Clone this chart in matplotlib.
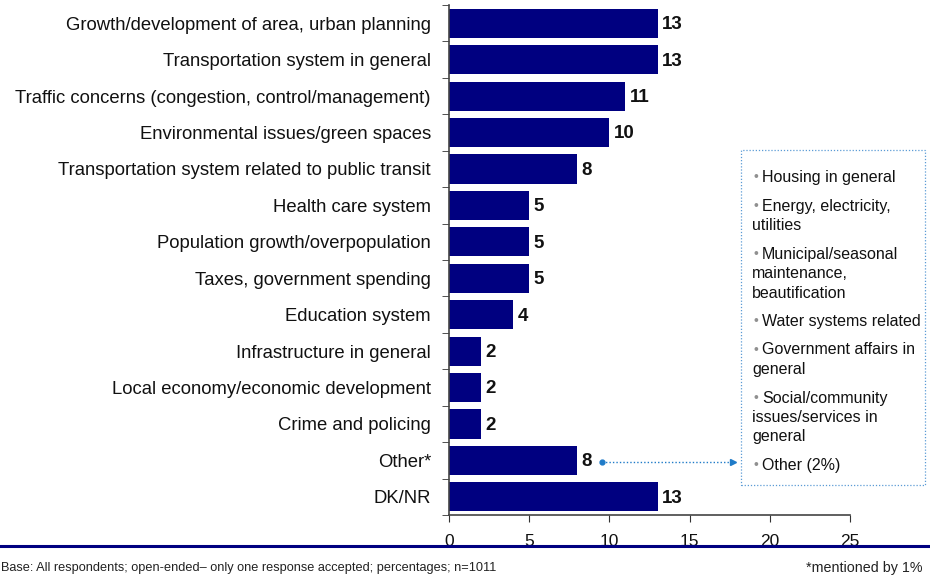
import matplotlib
matplotlib.use("Agg")
import matplotlib.pyplot as plt
from matplotlib.patches import Rectangle
from matplotlib.lines import Line2D

plt.rcParams['font.family'] = ['Liberation Sans', 'DejaVu Sans']

categories = [
    "Growth/development of area, urban planning",
    "Transportation system in general",
    "Traffic concerns (congestion, control/management)",
    "Environmental issues/green spaces",
    "Transportation system related to public transit",
    "Health care system",
    "Population growth/overpopulation",
    "Taxes, government spending",
    "Education system",
    "Infrastructure in general",
    "Local economy/economic development",
    "Crime and policing",
    "Other*",
    "DK/NR",
]
values = [13, 13, 11, 10, 8, 5, 5, 5, 4, 2, 2, 2, 8, 13]
x_ticks = [0, 5, 10, 15, 20, 25]

other_items = [
    "Housing in general",
    "Energy, electricity,\nutilities",
    "Municipal/seasonal\nmaintenance,\nbeautification",
    "Water systems related",
    "Government affairs in\ngeneral",
    "Social/community\nissues/services in\ngeneral",
    "Other (2%)",
]
footnote_left = "Base: All respondents; open-ended\u2013 only one response accepted; percentages; n=1011"
footnote_right = "*mentioned by 1%"

navy = "#000080"
W, H = 930, 582
fig = plt.figure(figsize=(W / 100, H / 100), dpi=100)

ax_l, ax_r, ax_t, ax_b = 449, 850, 5, 515
ax = fig.add_axes([ax_l / W, 1 - ax_b / H, (ax_r - ax_l) / W, (ax_b - ax_t) / H])

y = list(range(len(categories)))
ax.barh(y, values, height=0.8, color=navy)
ax.set_ylim(len(categories) - 0.5, -0.5)
ax.set_xlim(0, 25)

for yi, v in zip(y, values):
    ax.text(v + 0.28, yi + 0.04, str(v), va="center", ha="left", fontsize=13.5,
            fontweight="bold", color="#111111")

ax.set_yticks(y)
ax.set_yticklabels(categories, fontsize=13.3, color="#111111")
ax.set_yticks([i - 0.5 for i in range(len(categories) + 1)], minor=True)
ax.tick_params(axis="y", which="major", length=0, pad=13)
ax.tick_params(axis="y", which="minor", length=5, direction="out", color="#333333")
ax.set_xticks(x_ticks)
ax.set_xticklabels([str(t) for t in x_ticks], fontsize=12.5, color="#111111")
ax.tick_params(axis="x", length=5, direction="out", color="#333333", pad=9)

for s in ["top", "right"]:
    ax.spines[s].set_visible(False)
for s in ["left", "bottom"]:
    ax.spines[s].set_color("#444444")
    ax.spines[s].set_linewidth(1.2)

# Breakdown box for "Other"
box_x0, box_y0, box_x1, box_y1 = 741, 150, 925, 485
fig.patches.append(Rectangle((box_x0 / W, 1 - box_y1 / H), (box_x1 - box_x0) / W,
                             (box_y1 - box_y0) / H, transform=fig.transFigure,
                             fill=False, edgecolor="#5b9bd5", linestyle=(0, (1, 1.5)),
                             linewidth=0.9))
line_h = 19.5
item_gap = 28.5
cur = 177.5
for text in other_items:
    lines = text.split("\n")
    fig.text(755.5 / W, 1 - cur / H, "\u2022", fontsize=10, color="#909090",
             va="center", ha="center")
    fig.text(762 / W, 1 - cur / H, lines[0], fontsize=11.5, color="#111111",
             va="center", ha="left")
    for k, ln in enumerate(lines[1:], start=1):
        fig.text(752 / W, 1 - (cur + k * line_h) / H, ln, fontsize=11.5,
                 color="#111111", va="center", ha="left")
    cur += (len(lines) - 1) * line_h + item_gap

# Connector from the "Other" bar to the box
arrow_y = 1 - 462 / H
fig.add_artist(Line2D([602 / W, 731 / W], [arrow_y, arrow_y], transform=fig.transFigure,
                      color="#1f7bc8", linestyle=(0, (1, 1.5)), linewidth=1))
fig.add_artist(Line2D([602 / W], [arrow_y], transform=fig.transFigure, marker="o",
                      markersize=3.5, color="#1f7bc8"))
fig.add_artist(Line2D([733 / W], [arrow_y], transform=fig.transFigure, marker=">",
                      markersize=4.5, color="#1f7bc8", linestyle="none"))

# Footer rule and notes
fig.add_artist(Line2D([0, 1], [1 - 546 / H, 1 - 546 / H], transform=fig.transFigure,
                      color=navy, linewidth=2.2))
fig.text(1 / W, 1 - 568 / H, footnote_left, fontsize=9.2, color="#222222",
         va="center", ha="left")
fig.text(922 / W, 1 - 568 / H, footnote_right, fontsize=10.3, color="#222222",
         va="center", ha="right")

fig.savefig("out.png", dpi=100)
